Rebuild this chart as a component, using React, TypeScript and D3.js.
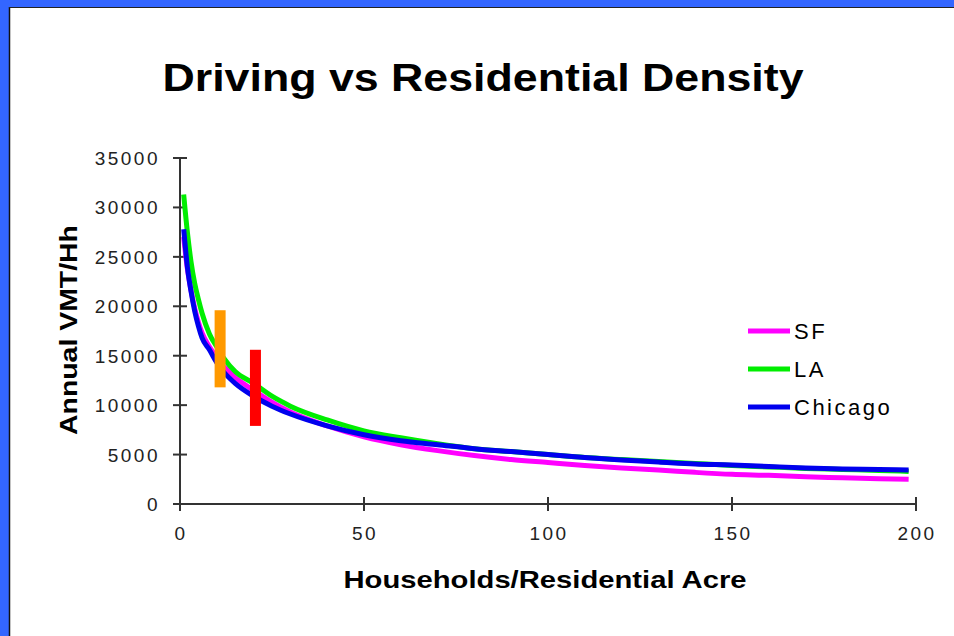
import React from "react";
import * as d3 from "d3";

const xValues = [1, 2, 3, 4, 5, 6, 8, 10, 12, 15, 20, 25, 30, 40, 50, 60, 70, 80, 90, 100, 110, 120, 130, 140, 150, 160, 170, 180, 190, 198];
const sfValues = [27000, 23800, 21600, 19800, 18400, 17300, 15900, 14800, 13900, 12800, 11500, 10300, 9300, 7900, 6800, 6000, 5400, 4900, 4500, 4200, 3900, 3650, 3450, 3200, 3000, 2900, 2750, 2650, 2550, 2500];
const laValues = [31300, 27500, 24500, 22300, 20700, 19300, 17200, 15900, 14700, 13400, 12200, 10900, 9900, 8500, 7400, 6700, 6100, 5600, 5300, 5000, 4700, 4500, 4300, 4100, 3900, 3750, 3600, 3500, 3400, 3300];
const chicagoValues = [27800, 24000, 21500, 19500, 18000, 16800, 15600, 14300, 13300, 12200, 10900, 9900, 9100, 7900, 7000, 6400, 6000, 5600, 5300, 5000, 4700, 4450, 4250, 4050, 3950, 3800, 3650, 3550, 3500, 3450];

const seriesNames = ["SF", "LA", "Chicago"];
const seriesData = [sfValues, laValues, chicagoValues];
const seriesColors = ["#FF00FF", "#00EE00", "#0000EE"];

const yTicks = [0, 5000, 10000, 15000, 20000, 25000, 30000, 35000];
const xTicks = [0, 50, 100, 150, 200];

// annotation bars: x position and value range
const barX = [10.9, 20.5];
const barLow = [11800, 7900];
const barHigh = [19600, 15600];
const barColors = ["#FF9900", "#FF0000"];

const title = "Driving vs Residential Density";
const xTitle = "Households/Residential Acre";
const yTitle = "Annual VMT/Hh";

export default function App() {
  const W = 954;
  const H = 636;
  const x = d3.scaleLinear().domain([0, 200]).range([180, 916]);
  const y = d3.scaleLinear().domain([0, 35000]).range([504, 158]);
  const line = d3
    .line<number>()
    .x((_, i) => x(xValues[i]))
    .y((d) => y(d))
    .curve(d3.curveMonotoneX);

  const tickFont = "'Liberation Sans', Arial, sans-serif";
  const font = "'Liberation Sans', Arial, sans-serif";

  return (
    <svg
      width={W}
      height={H}
      style={{ position: "absolute", left: 0, top: 0, display: "block" }}
    >
      <rect x={0} y={0} width={W} height={H} fill="#3366FF" />
      <rect x={9} y={7} width={W - 9} height={H - 7} fill="#FFFFFF" />
      <line x1={9.5} y1={7} x2={9.5} y2={H} stroke="#111" strokeWidth={1.5} />
      <line x1={9} y1={7.5} x2={W} y2={7.5} stroke="#222" strokeWidth={1} />

      <text
        x={483}
        y={91}
        textAnchor="middle"
        fontFamily={font}
        fontWeight="bold"
        fontSize={38}
        fill="#000"
        textLength={641}
        lengthAdjust="spacingAndGlyphs"
      >
        {title}
      </text>

      {/* y axis */}
      <line x1={x(0)} y1={y(35000)} x2={x(0)} y2={y(0)} stroke="#333" strokeWidth={2} />
      {yTicks.map((t) => (
        <g key={"y" + t}>
          <line x1={x(0) - 7} x2={x(0) + 7} y1={y(t)} y2={y(t)} stroke="#333" strokeWidth={2} />
          <text
            x={160}
            y={y(t) + 7}
            textAnchor="end"
            fontFamily={tickFont}
            fontSize={19}
            letterSpacing={2.5}
            fill="#222"
          >
            {String(t)}
          </text>
        </g>
      ))}

      {/* x axis */}
      <line x1={x(0)} y1={y(0)} x2={x(200)} y2={y(0)} stroke="#333" strokeWidth={2} />
      {xTicks.map((t) => (
        <g key={"x" + t}>
          <line x1={x(t)} x2={x(t)} y1={y(0) - 7} y2={y(0) + 7} stroke="#333" strokeWidth={2} />
          <text
            x={x(t) + 1}
            y={y(0) + 36}
            textAnchor="middle"
            fontFamily={tickFont}
            fontSize={19}
            letterSpacing={2.5}
            fill="#222"
          >
            {String(t)}
          </text>
        </g>
      ))}

      <text
        x={545}
        y={588}
        textAnchor="middle"
        fontFamily={font}
        fontWeight="bold"
        fontSize={24}
        fill="#000"
        textLength={403}
        lengthAdjust="spacingAndGlyphs"
      >
        {xTitle}
      </text>

      <text
        transform={`translate(77,330) rotate(-90)`}
        textAnchor="middle"
        fontFamily={font}
        fontWeight="bold"
        fontSize={24}
        fill="#000"
        textLength={210}
        lengthAdjust="spacingAndGlyphs"
      >
        {yTitle}
      </text>

      {/* series */}
      {seriesData.map((vals, i) => (
        <path
          key={seriesNames[i]}
          d={line(vals) || ""}
          fill="none"
          stroke={seriesColors[i]}
          strokeWidth={5}
          strokeLinejoin="round"
        />
      ))}

      {/* annotation bars */}
      {barX.map((bx, i) => (
        <rect
          key={"bar" + i}
          x={x(bx) - 5.5}
          y={y(barHigh[i])}
          width={11}
          height={y(barLow[i]) - y(barHigh[i])}
          fill={barColors[i]}
        />
      ))}

      {/* legend */}
      {seriesNames.map((n, i) => (
        <g key={"leg" + n}>
          <line
            x1={748}
            x2={790}
            y1={331 + i * 38}
            y2={331 + i * 38}
            stroke={seriesColors[i]}
            strokeWidth={5}
          />
          <text
            x={794}
            y={331 + i * 38 + 8}
            fontFamily={font}
            fontSize={22}
            letterSpacing={2.5}
            fill="#000"
          >
            {n}
          </text>
        </g>
      ))}
    </svg>
  );
}
